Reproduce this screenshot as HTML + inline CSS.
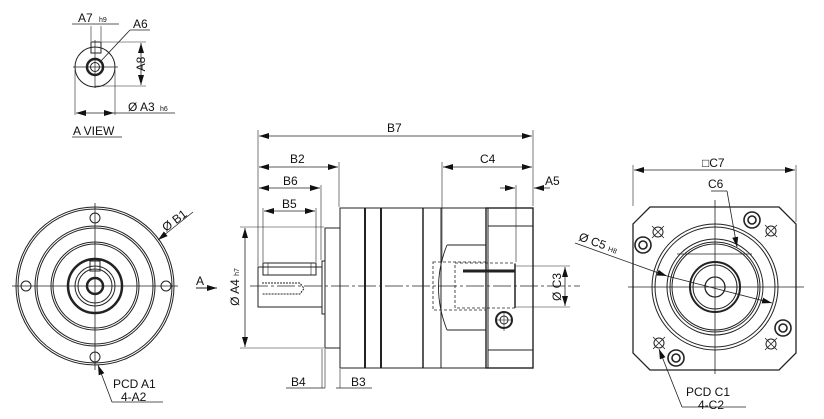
<!DOCTYPE html>
<html><head><meta charset="utf-8"><style>
html,body{margin:0;padding:0;background:#fff;}
svg{display:block;}
text{font-family:"Liberation Sans",sans-serif;fill:#111;}
</style></head><body>
<svg width="824" height="419" viewBox="0 0 824 419" xmlns="http://www.w3.org/2000/svg">
<defs>
<marker id="ar" viewBox="0 0 10 6" refX="10" refY="3" markerWidth="10" markerHeight="6" orient="auto-start-reverse" markerUnits="userSpaceOnUse"><path d="M0,0 L10,3 L0,6 z" fill="#111"/></marker>
</defs>
<g fill="none" stroke="#222" stroke-width="1">

<!-- A VIEW -->
<circle cx="95" cy="67" r="20"/>
<circle cx="95" cy="67" r="8" stroke-width="2.5"/>
<circle cx="95" cy="67" r="4.5"/>
<rect x="91" y="42" width="10" height="11"/>
<line x1="95" y1="40" x2="95" y2="88" stroke-width="0.7"/>
<line x1="73" y1="67" x2="118" y2="67" stroke-width="0.7"/>
<line x1="72" y1="24" x2="119" y2="24" stroke-width="0.8"/>
<line x1="91" y1="26" x2="91" y2="41" stroke-width="0.6"/><line x1="101" y1="26" x2="101" y2="41" stroke-width="0.6"/>
<line x1="101" y1="42" x2="146" y2="42" stroke-width="0.6"/><line x1="95" y1="86" x2="146" y2="86" stroke-width="0.6"/>
<line x1="141" y1="43" x2="141" y2="85" marker-start="url(#ar)" marker-end="url(#ar)" stroke-width="0.8"/>
<line x1="100" y1="62" x2="130" y2="30" stroke-width="0.8"/><line x1="130" y1="30" x2="150" y2="30" stroke-width="0.8"/>
<line x1="75" y1="70" x2="75" y2="115" stroke-width="0.6"/><line x1="115" y1="70" x2="115" y2="115" stroke-width="0.6"/>
<line x1="76" y1="113" x2="114" y2="113" marker-start="url(#ar)" marker-end="url(#ar)" stroke-width="0.8"/>
<line x1="114" y1="113" x2="175" y2="113" stroke-width="0.8"/>
<line x1="72" y1="137" x2="122" y2="137" stroke-width="0.8"/>

<!-- LEFT VIEW -->
<circle cx="95" cy="286" r="79"/><circle cx="95" cy="286" r="77"/>
<circle cx="95" cy="286" r="60"/><circle cx="95" cy="286" r="58"/>
<circle cx="95" cy="286" r="44"/><circle cx="95" cy="286" r="42"/>
<circle cx="95" cy="286" r="27" stroke-width="2.5"/>
<circle cx="95" cy="286" r="20"/><circle cx="95" cy="286" r="17"/>
<circle cx="95" cy="286" r="8" stroke-width="2.5"/>
<rect x="90" y="261" width="10" height="10"/>
<circle cx="95" cy="218" r="5"/><circle cx="26" cy="286" r="5"/><circle cx="166" cy="286" r="5"/><circle cx="95" cy="357" r="5"/>
<line x1="12" y1="286" x2="178" y2="286" stroke-width="0.8"/>
<line x1="95" y1="203" x2="95" y2="370" stroke-width="0.8"/>
<line x1="158" y1="240" x2="193" y2="212" stroke-width="0.8" marker-start="url(#ar)"/>
<line x1="98" y1="365" x2="112" y2="402" stroke-width="0.8" marker-start="url(#ar)"/>
<line x1="112" y1="402" x2="163" y2="402" stroke-width="0.8"/>
<line x1="196" y1="288" x2="217" y2="288" stroke-width="1" marker-end="url(#ar)"/>

<!-- MIDDLE VIEW -->
<line x1="250" y1="286" x2="580" y2="286" stroke-width="0.7" stroke-dasharray="18,3,3,3"/>
<rect x="258" y="267" width="64" height="40"/>
<rect x="263" y="263" width="53" height="12"/>
<rect x="268" y="263" width="43" height="12" stroke-width="0.6"/>
<path d="M262,283 H300 L304,288.5 L300,294 H262" stroke-dasharray="2,1"/>
<rect x="322" y="261" width="3" height="53"/>
<rect x="325" y="228" width="15" height="120"/>
<rect x="340" y="208" width="146" height="160"/>
<line x1="365" y1="208" x2="365" y2="368" stroke-width="2"/>
<line x1="381" y1="208" x2="381" y2="368" stroke-width="2"/>
<line x1="423" y1="208" x2="423" y2="368" stroke-width="1.5"/>
<line x1="441" y1="208" x2="441" y2="368"/>
<rect x="486" y="208" width="47" height="160" stroke-width="1.4"/>
<line x1="488" y1="208" x2="488" y2="368"/>
<line x1="488" y1="226" x2="533" y2="226"/><line x1="488" y1="350" x2="533" y2="350"/>
<path d="M447,245 H486 M447,330 H486 M447,245 Q430,287 447,330" stroke-width="0.9"/>
<rect x="433" y="262" width="53" height="48" stroke-dasharray="3,2" stroke-width="0.8"/>
<rect x="455" y="263" width="60" height="45" stroke-dasharray="3,2" stroke-width="0.8"/>
<line x1="463" y1="271" x2="515" y2="271" stroke-width="3"/>
<line x1="515" y1="264" x2="515" y2="308" stroke-width="1.5"/>
<circle cx="504" cy="320" r="8" stroke-width="2"/><circle cx="504" cy="320" r="4"/>
<line x1="497" y1="320" x2="511" y2="320" stroke-width="0.6"/><line x1="504" y1="313" x2="504" y2="331" stroke-width="0.6"/>
<!-- dims middle -->
<line x1="258" y1="130" x2="258" y2="266" stroke-width="0.6"/>
<line x1="533" y1="130" x2="533" y2="206" stroke-width="0.6"/>
<line x1="259" y1="136" x2="532" y2="136" marker-start="url(#ar)" marker-end="url(#ar)" stroke-width="0.8"/>
<line x1="339" y1="162" x2="339" y2="207" stroke-width="0.6"/>
<line x1="259" y1="167" x2="338" y2="167" marker-start="url(#ar)" marker-end="url(#ar)" stroke-width="0.8"/>
<line x1="321" y1="185" x2="321" y2="260" stroke-width="0.6"/>
<line x1="259" y1="188" x2="320" y2="188" marker-start="url(#ar)" marker-end="url(#ar)" stroke-width="0.8"/>
<line x1="263" y1="208" x2="263" y2="262" stroke-width="0.6"/><line x1="316" y1="208" x2="316" y2="262" stroke-width="0.6"/>
<line x1="264" y1="211" x2="315" y2="211" marker-start="url(#ar)" marker-end="url(#ar)" stroke-width="0.8"/>
<line x1="442" y1="162" x2="442" y2="262" stroke-width="0.6"/>
<line x1="443" y1="167" x2="532" y2="167" marker-start="url(#ar)" marker-end="url(#ar)" stroke-width="0.8"/>
<line x1="516" y1="185" x2="516" y2="262" stroke-width="0.6"/>
<line x1="500" y1="188" x2="515" y2="188" marker-end="url(#ar)" stroke-width="0.8"/>
<line x1="550" y1="188" x2="534" y2="188" marker-end="url(#ar)" stroke-width="0.8"/>
<line x1="240" y1="227" x2="324" y2="227" stroke-width="0.6"/><line x1="240" y1="348" x2="324" y2="348" stroke-width="0.6"/>
<line x1="245" y1="228" x2="245" y2="347" marker-start="url(#ar)" marker-end="url(#ar)" stroke-width="0.8"/>
<line x1="516" y1="266" x2="570" y2="266" stroke-width="0.6"/><line x1="516" y1="307" x2="570" y2="307" stroke-width="0.6"/>
<line x1="565" y1="267" x2="565" y2="306" marker-start="url(#ar)" marker-end="url(#ar)" stroke-width="0.8"/>
<line x1="322" y1="349" x2="322" y2="388" stroke-width="0.6"/><line x1="325" y1="349" x2="325" y2="388" stroke-width="0.6"/><line x1="340" y1="369" x2="340" y2="388" stroke-width="0.6"/>
<line x1="286" y1="388" x2="325" y2="388" stroke-width="0.8"/>
<line x1="336" y1="388" x2="372" y2="388" stroke-width="0.8"/>

<!-- RIGHT VIEW -->
<path d="M650,207 H779 L796,224 V353 L779,370 H650 L633,353 V224 Z" stroke-width="1.3"/>
<circle cx="715" cy="287" r="63"/><circle cx="715" cy="287" r="60"/>
<circle cx="715" cy="287" r="48"/><circle cx="715" cy="287" r="45"/><circle cx="715" cy="287" r="43"/>
<circle cx="715" cy="287" r="25" stroke-width="2"/><circle cx="715" cy="287" r="22"/>
<circle cx="715" cy="287" r="10" stroke-width="1.3"/>
<line x1="677" y1="254" x2="752" y2="254" stroke-width="0.8"/>
<line x1="628" y1="287" x2="804" y2="287" stroke-width="0.8"/>
<line x1="715" y1="200" x2="715" y2="374" stroke-width="0.8"/>
<g stroke-width="1.6">
<circle cx="643" cy="245" r="8"/><circle cx="643" cy="245" r="4"/>
<circle cx="752" cy="220" r="8"/><circle cx="752" cy="220" r="4"/>
<circle cx="783" cy="328" r="8"/><circle cx="783" cy="328" r="4"/>
<circle cx="676" cy="358" r="8"/><circle cx="676" cy="358" r="4"/>
</g>
<circle cx="658" cy="232" r="5"/><circle cx="771" cy="231" r="5"/><circle cx="771" cy="344" r="5"/><circle cx="659" cy="343" r="5"/>
<g stroke-width="0.8">
<path d="M652,226 l12,12 M664,226 l-12,12"/>
<path d="M765,225 l12,12 M777,225 l-12,12"/>
<path d="M765,338 l12,12 M777,338 l-12,12"/>
<path d="M653,337 l12,12 M665,337 l-12,12"/>
</g>
<line x1="633" y1="165" x2="633" y2="206" stroke-width="0.6"/><line x1="796" y1="165" x2="796" y2="222" stroke-width="0.6"/>
<line x1="634" y1="170" x2="795" y2="170" marker-start="url(#ar)" marker-end="url(#ar)" stroke-width="0.8"/>
<line x1="711" y1="191" x2="727" y2="191" stroke-width="0.8"/>
<line x1="727" y1="191" x2="737" y2="247" stroke-width="0.8" marker-end="url(#ar)"/>
<line x1="575" y1="243" x2="667" y2="276" stroke-width="0.8" marker-end="url(#ar)"/>
<line x1="667" y1="276" x2="772" y2="303" stroke-width="0.8" marker-end="url(#ar)"/>
<line x1="659" y1="349" x2="682" y2="407" stroke-width="0.8" marker-start="url(#ar)"/>
<line x1="682" y1="407" x2="746" y2="407" stroke-width="0.8"/>
</g>

<g font-size="12">
<text x="78" y="22">A7</text><text x="99" y="22" font-size="7">h9</text>
<text x="133" y="28">A6</text>
<text x="145" y="64" transform="rotate(-90 145 64)" text-anchor="middle" dy="0">A8</text>
<text x="128" y="111">Ø A3</text><text x="160" y="111" font-size="7">h6</text>
<text x="73" y="135">A VIEW</text>
<text x="166" y="232" transform="rotate(-37 166 232)">Ø B1</text>
<text x="113" y="388">PCD A1</text><text x="121" y="401">4-A2</text>
<text x="196" y="285">A</text>
<text x="239" y="287" transform="rotate(-90 239 287)" text-anchor="middle">Ø A4 <tspan font-size="7">h7</tspan></text>
<text x="387" y="132">B7</text>
<text x="290" y="163">B2</text><text x="283" y="185">B6</text><text x="282" y="208">B5</text>
<text x="480" y="163">C4</text><text x="545" y="185">A5</text>
<text x="561" y="287" transform="rotate(-90 561 287)" text-anchor="middle">Ø C3</text>
<text x="291" y="386">B4</text><text x="351" y="386">B3</text>
<text x="702" y="167">□C7</text>
<text x="708" y="188">C6</text>
<text x="578" y="240" transform="rotate(20 578 240)">Ø C5 <tspan font-size="7">H8</tspan></text>
<text x="686" y="396">PCD C1</text><text x="698" y="409">4-C2</text>
</g>
</svg>
</body></html>
